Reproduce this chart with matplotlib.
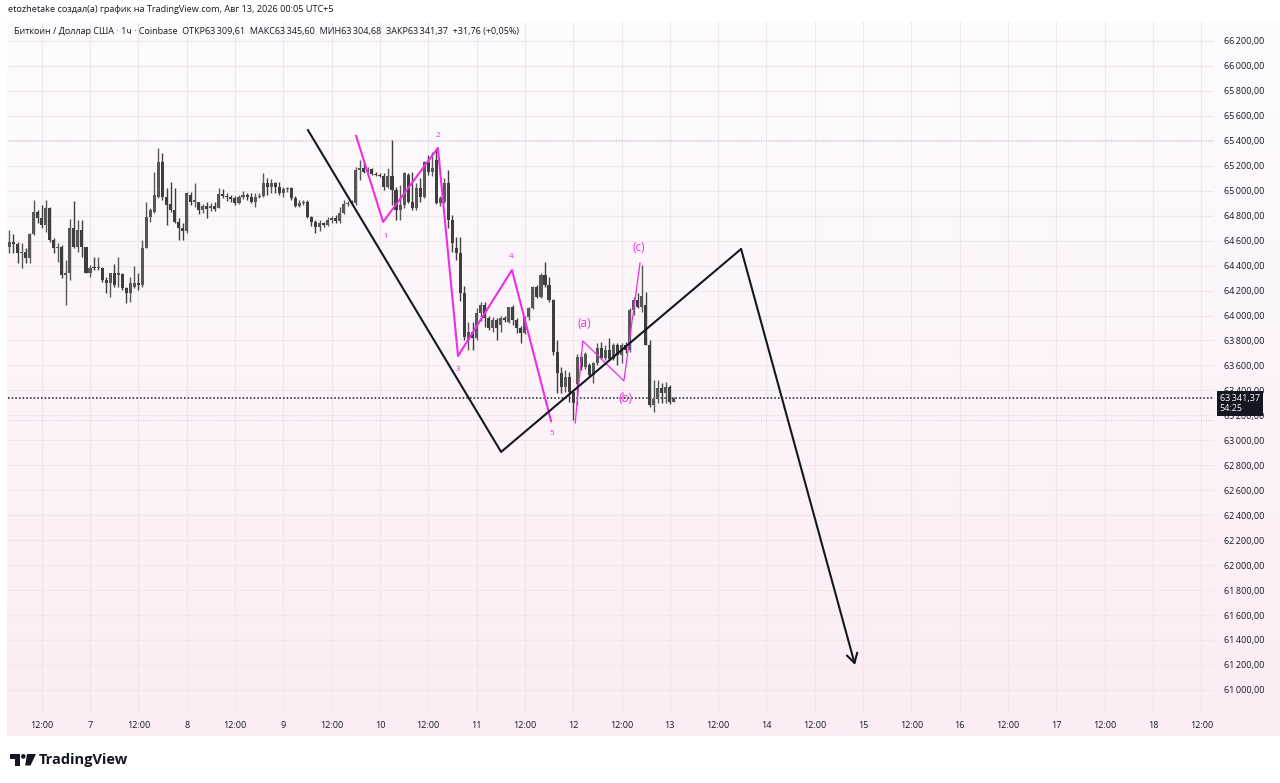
import numpy as np
import matplotlib.pyplot as plt
from matplotlib.patches import Polygon, Circle, Rectangle
from matplotlib.transforms import blended_transform_factory

plt.rcParams['font.family'] = ['Open Sans', 'DejaVu Sans']

# ---------------- data: BTC/USD 1h candles (Coinbase), Aug 6 - Aug 13 ----------------
opens = [
    64552, 64592, 64574, 64499, 64507, 64459, 64651, 64833, 64779, 64726,
    64859, 64606, 64539, 64547, 64325, 64344, 64699, 64552, 64686, 64547,
    64344, 64384, 64379, 64384, 64285, 64259, 64344, 64325, 64331, 64218,
    64178, 64232, 64264, 64245, 64539, 64787, 64833, 64953, 65233, 64948,
    64894, 64846, 64753, 64699, 64680, 64966, 64913, 64913, 64846, 64878,
    64859, 64878, 64859, 64974, 64958, 64948, 64940, 64905, 64948, 64966,
    64948, 64913, 64948, 64958, 65065, 65033, 65060, 65033, 64980, 65012,
    65020, 64940, 64878, 64905, 64913, 64787, 64753, 64707, 64739, 64726,
    64766, 64779, 64761, 64825, 64894, 64900, 64905, 65167, 65180, 65153,
    65172, 65135, 65127, 65118, 65033, 65118, 65006, 64846, 64886, 65127,
    64913, 64859, 65020, 64953, 65230, 65150, 65246, 64902, 64910, 65060,
    64766, 64545, 64501, 64181, 63804, 63868, 63820, 64020, 64085, 63980,
    63900, 63965, 63925, 63980, 63948, 64068, 63965, 63900, 63860, 63988,
    64060, 64229, 64150, 64325, 64245, 64125, 63708, 63540, 63430, 63510,
    63390, 63450, 63668, 63590, 63600, 63520, 63620, 63740, 63660, 63720,
    63650, 63760, 63680, 63765, 63720, 64044, 64125, 64070, 64085, 63765,
    63285, 63330, 63419, 63380, 63430, 63309.61,
]
highs = [
    64686, 64651, 64592, 64579, 64539, 64659, 64926, 64846, 64886, 64926,
    64873, 64619, 64579, 64566, 64446, 64771, 64918, 64766, 64766, 64552,
    64405, 64472, 64472, 64392, 64312, 64344, 64411, 64472, 64344, 64232,
    64307, 64397, 64339, 64606, 64913, 64859, 65153, 65340, 65300, 65020,
    65073, 65020, 64779, 64739, 64993, 64993, 65065, 64913, 64894, 64913,
    64905, 64913, 65020, 65012, 64980, 64966, 64958, 64966, 65001, 64980,
    64985, 64985, 64980, 65140, 65100, 65092, 65073, 65073, 65033, 65033,
    65033, 64958, 64926, 64926, 64926, 64798, 64766, 64766, 64753, 64793,
    64798, 64806, 64873, 64926, 64921, 64926, 65193, 65247, 65220, 65193,
    65180, 65153, 65140, 65140, 65180, 65407, 65033, 65046, 65153, 65140,
    65153, 65060, 65100, 65240, 65290, 65310, 65330, 64960, 65100, 65170,
    64805, 64630, 64630, 64240, 63948, 63948, 64060, 64110, 64110, 63995,
    63988, 63980, 63995, 63995, 64070, 64085, 63980, 63920, 63995, 64068,
    64240, 64245, 64340, 64430, 64310, 64130, 63804, 63590, 63560, 63550,
    63400, 63690, 63700, 63705, 63620, 63630, 63780, 63790, 63760, 63820,
    63780, 63780, 63780, 63790, 64060, 64150, 64180, 64405, 64185, 63800,
    63480, 63480, 63460, 63470, 63440, 63345.60,
]
lows = [
    64499, 64499, 64419, 64379, 64419, 64419, 64646, 64739, 64699, 64672,
    64592, 64499, 64432, 64299, 64085, 64285, 64539, 64512, 64472, 64339,
    64312, 64365, 64365, 64272, 64178, 64152, 64232, 64232, 64205, 64098,
    64112, 64218, 64205, 64232, 64539, 64753, 64819, 64940, 64926, 64726,
    64833, 64739, 64606, 64606, 64659, 64886, 64873, 64814, 64825, 64779,
    64841, 64841, 64859, 64940, 64921, 64913, 64886, 64894, 64932, 64926,
    64900, 64873, 64945, 64953, 64966, 64980, 64980, 64966, 64953, 64993,
    64926, 64873, 64873, 64886, 64779, 64718, 64664, 64680, 64707, 64720,
    64745, 64739, 64739, 64814, 64878, 64886, 64886, 65086, 65140, 65140,
    65127, 65118, 65113, 65006, 65020, 64886, 64766, 64766, 64859, 64900,
    64846, 64846, 64913, 64940, 65130, 65120, 64890, 64880, 64900, 64700,
    64505, 64445, 64115, 63804, 63724, 63724, 63800, 63960, 63905, 63884,
    63868, 63804, 63868, 63948, 63940, 63925, 63860, 63780, 63850, 63965,
    64050, 64140, 64140, 64230, 64110, 63684, 63380, 63380, 63390, 63305,
    63160, 63280, 63560, 63570, 63505, 63460, 63600, 63650, 63640, 63640,
    63640, 63600, 63620, 63700, 63710, 64005, 64060, 64030, 63760, 63270,
    63225, 63300, 63300, 63300, 63290, 63304.68,
]
closes = [
    64592, 64574, 64499, 64507, 64459, 64651, 64833, 64779, 64726, 64859,
    64606, 64539, 64547, 64325, 64344, 64699, 64552, 64686, 64547, 64344,
    64384, 64379, 64384, 64285, 64259, 64344, 64245, 64344, 64218, 64178,
    64259, 64264, 64245, 64539, 64787, 64846, 64966, 65233, 64953, 64886,
    64846, 64753, 64699, 64680, 64980, 64913, 64926, 64846, 64878, 64851,
    64878, 64851, 64974, 64958, 64948, 64932, 64905, 64948, 64966, 64948,
    64913, 64948, 64958, 65065, 65033, 65060, 65033, 64980, 65012, 65020,
    64940, 64878, 64905, 64913, 64787, 64753, 64707, 64739, 64726, 64766,
    64779, 64761, 64825, 64894, 64900, 64905, 65167, 65180, 65153, 65172,
    65135, 65127, 65118, 65033, 65118, 65006, 64846, 64886, 65140, 64913,
    64859, 65020, 64953, 65230, 65150, 65180, 64902, 64940, 65060, 64766,
    64582, 64501, 64181, 63828, 63868, 63820, 64020, 64085, 63980, 63900,
    63965, 63900, 63980, 63965, 64068, 63965, 63900, 63860, 63988, 64060,
    64229, 64150, 64325, 64245, 64125, 63708, 63540, 63430, 63510, 63390,
    63300, 63668, 63590, 63690, 63520, 63620, 63740, 63660, 63720, 63650,
    63760, 63680, 63765, 63720, 64044, 64125, 64070, 64160, 63765, 63285,
    63330, 63419, 63380, 63430, 63310, 63341.37,
]

# time axis: candle index (hours from Aug 6 03:00)
tick_pos = list(range(8, 297, 12))
tick_labels = ["12:00" if i % 2 == 0 else str(7 + i // 2) for i in range(len(tick_pos))]

# drawings (candle index, price)
big_path_x = [74.1, 122.1, 181.7, 210.0]
big_path_y = [65487, 62907, 64533, 61200]
wave_x = [86.1, 92.8, 106.4, 111.4, 124.8, 134.5]
wave_y = [65439, 64750, 65343, 63676, 64365, 63155]
wave_labels = ["1", "2", "3", "4", "5"]
wave_label_xy = [(93.5, 64637), (106.4, 65439), (111.4, 63564), (124.6, 64469), (134.7, 63051)]
abc_x = [140.5, 142.4, 152.6, 156.6]
abc_y = [63139, 63796, 63476, 64421]
abc_labels = ["(a)", "(b)", "(c)"]
abc_label_xy = [(142.7, 63940), (152.9, 63339), (156.4, 64549)]

TXT = "#131722"
MAG = "#ee2ee6"
UP = "#575757"
DN = "#3e3e3e"


def fmt(v):
    s = f"{v:,.2f}"
    return s.replace(",", "\u2009").replace(".", ",")


W, H = 1280, 783
fig = plt.figure(figsize=(W / 100, H / 100), dpi=100)
fig.patch.set_facecolor("white")


def px(x0, y0, x1, y1):
    return [x0 / W, (H - y1) / H, (x1 - x0) / W, (y1 - y0) / H]


# background gradient (white -> light pink)
bg = fig.add_axes(px(7, 22, W, 736), zorder=0)
top = np.array([253, 252, 254]) / 255
bot = np.array([252, 236, 244]) / 255
g = np.linspace(0, 1, 256)[:, None, None]
bg.imshow(top + (bot - top) * g, aspect="auto", extent=[0, 1, 0, 1], origin="upper")
bg.axis("off")

ax = fig.add_axes(px(7.5, 22, 1214, 712), zorder=1)
ax.patch.set_alpha(0)
ax.set_xlim(-0.49, 299.15)
ax.set_ylim(60823, 66352)

o = np.array(opens)
h = np.array(highs)
l = np.array(lows)
c = np.array(closes)
n = np.arange(len(c))
up = c >= o
cols = np.where(up, UP, DN)

ax.vlines(n, l, h, colors=cols, lw=1.0, zorder=3)
ax.bar(n, np.maximum(np.abs(c - o), 8), bottom=np.minimum(o, c), width=0.76,
       color=cols, linewidth=0, zorder=4)

# range high / low and last price lines
ax.axhline(h.max(), color="#b3a9b1", lw=0.6, ls=(0, (1, 2)), zorder=2)
ax.axhline(l.min(), color="#c9b5c2", lw=0.6, ls=(0, (1, 2)), zorder=2)
ax.axhline(c[-1], color=TXT, lw=1.1, ls=(0, (1, 1.4)), zorder=2, clip_on=False)

# black projection
ax.plot(big_path_x[:3], big_path_y[:3], color=TXT, lw=1.5, zorder=6, solid_capstyle="round")
ax.annotate("", xy=(big_path_x[3], big_path_y[3]), xytext=(big_path_x[2], big_path_y[2]),
            arrowprops=dict(arrowstyle="->,head_length=0.55,head_width=0.32", color=TXT,
                            lw=1.5, shrinkA=0, shrinkB=0, mutation_scale=12), zorder=6)

# elliott waves
ax.plot(wave_x, wave_y, color=MAG, lw=1.5, zorder=5)
for lab, (xx, yy) in zip(wave_labels, wave_label_xy):
    ax.text(xx, yy, lab, color=MAG, fontsize=5.8, ha="center", va="center", zorder=7)
ax.plot(abc_x, abc_y, color=MAG, lw=0.9, zorder=5)
for lab, (xx, yy) in zip(abc_labels, abc_label_xy):
    ax.text(xx, yy, lab, color=MAG, fontsize=8.5, ha="center", va="center", zorder=7)

# axes styling
for s in ax.spines.values():
    s.set_visible(False)
yt = list(range(61000, 66201, 200))
ax.yaxis.tick_right()
ax.set_yticks(yt)
ax.set_yticklabels([fmt(v) for v in yt])
ax.set_xticks(tick_pos)
ax.set_xticklabels(tick_labels)
ax.tick_params(axis="y", length=0, pad=7.5, labelsize=6.5, labelcolor=TXT)
ax.tick_params(axis="x", length=0, pad=6.5, labelsize=6.5, labelcolor=TXT)
ax.grid(color="#f0e6ec", lw=0.8, zorder=0)
ax.set_axisbelow(True)
clip_rect = Rectangle((0, 0), 1215 / W, 1, transform=fig.transFigure, visible=False)
fig.add_artist(clip_rect)
for t in ax.get_xticklabels():
    t.set_clip_path(clip_rect)
    t.set_clip_on(True)

# last price tag
tr = blended_transform_factory(ax.transAxes, ax.transData)
ax.annotate(f"{fmt(c[-1])}\n54:25", xy=(1, c[-1]), xycoords=tr, xytext=(4.2, 2.6),
            textcoords="offset points", ha="left", va="top", fontsize=6.5, color="white",
            linespacing=1.1, annotation_clip=False, zorder=10,
            bbox=dict(boxstyle="square,pad=0.3", fc=TXT, ec="none"))

# header
fig.text(8 / W, 1 - 10 / H,
         "etozhetake создал(а) график на TradingView.com, Авг 13, 2026 00:05 UTC+5",
         fontsize=6.6, va="center", color=TXT)
chg = c[-1] - o[-1]
line2 = (f"Биткоин / Доллар США · 1ч · Coinbase  ОТКР{fmt(o[-1])}  МАКС{fmt(h[-1])}  "
         f"МИН{fmt(l[-1])}  ЗАКР{fmt(c[-1])}  +{fmt(chg)} (+{chg / o[-1] * 100:.2f}%)".replace(".", ","))
fig.text(14 / W, 1 - 32 / H, line2, fontsize=6.5, va="center", color=TXT)

# TradingView logo
ov = fig.add_axes([0, 0, 1, 1], zorder=5)
ov.set_xlim(0, W)
ov.set_ylim(H, 0)
ov.axis("off")
ov.add_patch(Polygon([(10, 754), (20, 754), (20, 765.5), (15, 765.5), (15, 758.5), (10, 758.5)],
                     closed=True, fc=TXT, ec="none"))
ov.add_patch(Circle((23.3, 756.4), 2.3, fc=TXT, ec="none"))
ov.add_patch(Polygon([(27, 754), (36, 754), (30.5, 765.5), (25.2, 765.5)], closed=True, fc=TXT, ec="none"))
ov.text(39, 760, "TradingView", fontsize=10.5, weight="bold", va="center", ha="left", color=TXT)

fig.savefig("out.png", dpi=100)
